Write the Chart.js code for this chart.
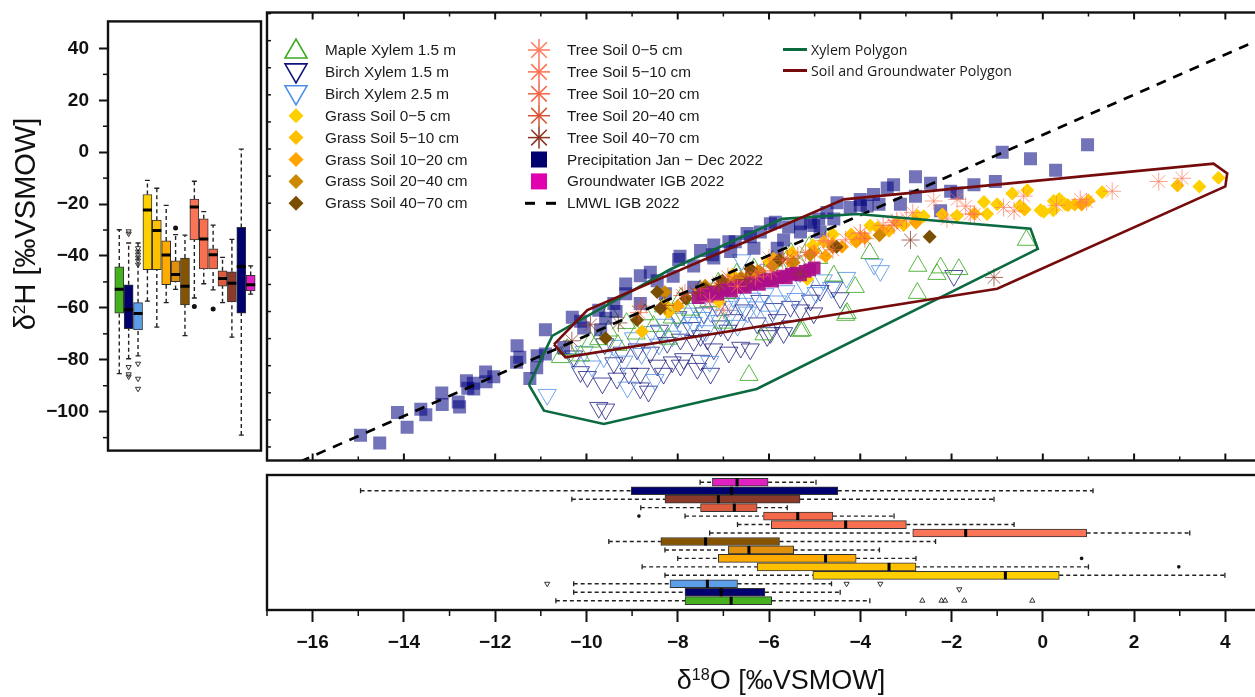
<!DOCTYPE html>
<html><head><meta charset="utf-8">
<script src="https://cdn.jsdelivr.net/npm/chart.js@4.4.1/dist/chart.umd.min.js"></script>
<style>
html,body{margin:0;padding:0;background:#fff;}
body{width:1255px;height:697px;overflow:hidden;position:relative;font-family:"Liberation Sans",Arial,sans-serif;}
canvas{position:absolute;}
#legendSvg{position:absolute;left:0;top:0;pointer-events:none;}
.lt{position:absolute;font-size:15.3px;line-height:16px;color:#1a1a1a;white-space:nowrap;}
.lt2{position:absolute;font-family:"Open Sans",sans-serif;font-size:14.2px;line-height:16px;color:#1a1a1a;white-space:nowrap;}
.ytitle{position:absolute;left:25px;top:224px;transform:translate(-50%,-50%) rotate(-90deg);font-size:29px;white-space:nowrap;color:#111;}
.xtitle{position:absolute;left:781px;top:680px;transform:translate(-50%,-50%);font-size:27px;white-space:nowrap;color:#111;}
sup{font-size:60%;vertical-align:0.55em;line-height:0}
</style></head><body>
<canvas id="cMain" width="1290" height="472" style="left:0;top:0"></canvas>
<canvas id="cLeft" width="266" height="472" style="left:0;top:0"></canvas>
<canvas id="cBot" width="1290" height="227" style="left:0;top:470px"></canvas>
<svg id="legendSvg" width="1255" height="697"></svg>
<div id="legendText"></div>
<div class="ytitle">δ<sup>2</sup>H [‰VSMOW]</div>
<div class="xtitle">δ<sup>18</sup>O [‰VSMOW]</div>
<script>
// ---------------- DATA ----------------
const groups = ['Maple Xylem 1.5 m','Birch Xylem 1.5 m','Birch Xylem 2.5 m','Grass Soil 0\u22125 cm','Grass Soil 5\u221210 cm','Grass Soil 10\u221220 cm','Grass Soil 20\u221240 cm','Grass Soil 40\u221270 cm','Tree Soil 0\u22125 cm','Tree Soil 5\u221210 cm','Tree Soil 10\u221220 cm','Tree Soil 20\u221240 cm','Tree Soil 40\u221270 cm','Precipitation Jan \u2212 Dec 2022','Groundwater IGB 2022'];
const lineLabels = ['LMWL IGB 2022','Xylem Polygon','Soil and Groundwater Polygon'];
const boxColors = ['#45B020','#00006E','#5C9EE8','#FFD000','#FFC000','#FFAA00','#E0900C','#865400','#FA7558','#F8704F','#F26848','#DC5C40','#8B3A2A','#00006E','#E020C0'];
const legendColors = ['#3DAA22','#12127A','#4D8FE6','#FFD000','#FFC000','#FFA500','#CC8800','#7A4E00','#FF7A5C','#FF6E50','#F56244','#D8502F','#8A3322','#00006E','#E000B0'];

// δ2H box statistics (left panel), group order as above
const h2Q1  = [-62,-68,-68.5,-45.3,-45.3,-51.1,-49.9,-58.9,-33.8,-45,-45,-51.6,-57.7,-62,-53.5];
const h2Q3  = [-44.2,-51.1,-58,-16.3,-26.2,-34.2,-41.9,-40.8,-18.1,-25.7,-37.2,-45.7,-46.1,-29,-47.5];
const h2Med = [-52.8,-60.7,-62.2,-22.3,-30.2,-39.6,-47.1,-51.7,-21.1,-33.5,-39.5,-48.7,-50.5,-44.1,-51.1];
const h2Lo  = [-85.3,-79.6,-78.5,-57.4,-67.4,-58,-52.9,-70.7,-56.2,-50.7,-53.1,-58,-71.3,-109,-54.7];
const h2Hi  = [-29.9,-35,-35,-10.9,-13.9,-20.5,-31.8,-32,-11.2,-22.9,-28.1,-40.5,-33.6,1.2,-43.8];
const h2OutTriDown = [[2,-30.5],[2,-31.4],[2,-82.8],[2,-85.6],[2,-86.5],[3,-37],[3,-38.3],[3,-39.5],[3,-40.6],[3,-41.8],[3,-43.3],[3,-81.5],[3,-87.3],[3,-91.2]];
const h2OutDot = [[7,-29.2],[9,-59.5],[11,-60.4]];

// δ18O box statistics (bottom panel)
const o18Q1  = [-7.84,-7.84,-8.17,-5.04,-6.26,-7.11,-6.89,-8.37,-2.85,-5.95,-6.12,-7.50,-8.28,-9.02,-7.24];
const o18Q3  = [-5.94,-6.09,-6.69,0.36,-2.78,-4.09,-5.46,-5.77,0.96,-2.99,-4.60,-6.26,-5.32,-4.49,-6.02];
const o18Med = [-6.83,-7.05,-7.35,-0.82,-3.37,-4.76,-6.44,-7.39,-1.69,-4.32,-5.37,-6.76,-7.11,-6.82,-6.70];
const o18Lo  = [-10.67,-10.28,-10.28,-8.28,-8.78,-8.0,-8.28,-9.51,-7.30,-6.69,-7.84,-8.81,-10.32,-14.95,-7.51];
const o18Hi  = [-3.79,-4.44,-4.63,3.99,1.0,-2.78,-3.58,-2.35,3.22,-0.63,-3.26,-5.60,-1.07,1.10,-4.97];
const o18OutTriUp = [[1,-2.64],[1,-2.22],[1,-2.14],[1,-1.72],[1,-0.23]];
const o18OutTriDown = [[2.35,-1.83],[3,-10.86],[3,-4.30],[3,-3.56]];
const o18OutDot = [[5,2.98],[6,0.85],[11,-8.85]];

// scatter samples [δ18O, δ2H]
const precipitation = [[-14.95,-105.7],[-14.53,-108.5],[-14.14,-97.3],[-13.93,-102.7],[-13.63,-96.1],[-13.52,-98.1],[-13.17,-90.1],[-13.16,-94.3],[-12.81,-93.4],[-12.78,-95.2],[-12.63,-85.6],[-12.60,-88.3],[-12.48,-86.5],[-12.47,-88.6],[-12.21,-82.3],[-12.20,-85.9],[-12.03,-84.1],[-11.52,-72.6],[-11.46,-76.9],[-11.53,-78.7],[-11.24,-84.7],[-11.08,-76.3],[-11.09,-80.8],[-10.90,-66.7],[-10.31,-62.1],[-10.90,-75.7],[-10.06,-66.1],[-10.50,-73.3],[-9.58,-62.5],[-9.14,-49.8],[-8.82,-46.8],[-9.14,-53.4],[-8.45,-48.6],[-7.98,-40.8],[-7.65,-43.2],[-7.24,-39.0],[-9.35,-60.0],[-9.69,-66.7],[-10.13,-63.6],[-9.73,-59.5],[-9.40,-57.0],[-8.82,-57.0],[-8.27,-53.4],[-7.65,-51.0],[-7.95,-39.6],[-7.21,-35.4],[-6.88,-34.2],[-6.48,-31.2],[-5.97,-27.6],[-6.74,-34.2],[-6.41,-32.4],[-6.19,-30.6],[-5.86,-27.0],[-5.57,-28.8],[-5.31,-27.6],[-5.02,-28.2],[-4.91,-25.8],[-4.73,-23.4],[-4.51,-19.8],[-4.22,-21.6],[-4.00,-18.6],[-3.71,-16.8],[-5.68,-33.6],[-5.82,-36.6],[-6.33,-36.6],[-6.84,-37.8],[-7.21,-40.2],[-5.31,-30.6],[-4.58,-25.8],[-4.88,-30.6],[-5.09,-27.0],[-4.00,-20.8],[-3.59,-20.4],[-3.85,-21.0],[-2.79,-10.2],[-2.46,-12.6],[-3.27,-13.2],[-3.41,-14.4],[-2.79,-17.4],[-3.12,-20.4],[-2.02,-15.6],[-1.51,-13.2],[-1.04,-12.0],[-1.88,-16.2],[-0.89,-1.2],[-0.27,-3.6],[0.28,-7.8],[0.98,1.6],[-2.24,-22.8],[-8.60,-45.5],[-8.10,-47.0],[-7.50,-37.5]];
const groundwater = [[-7.55,-54.9],[-7.45,-53.6],[-7.35,-54.3],[-7.22,-52.9],[-7.12,-53.6],[-7.01,-52.2],[-6.91,-51.6],[-6.82,-52.4],[-6.71,-51.1],[-6.61,-50.4],[-6.52,-51.0],[-6.41,-49.8],[-6.32,-49.2],[-6.21,-50.0],[-6.11,-48.6],[-6.01,-48.0],[-5.92,-48.8],[-5.81,-47.5],[-5.71,-46.9],[-5.62,-47.6],[-5.51,-46.3],[-5.41,-45.8],[-5.31,-46.5],[-5.21,-45.2],[-5.11,-44.6],[-5.01,-43.9]];
const birch15 = [[-9.98,-84.1],[-9.65,-86.5],[-9.33,-84.7],[-9.07,-82.9],[-8.82,-88.3],[-8.64,-89.5],[-9.73,-95.5],[-9.58,-96.1],[-8.45,-79.9],[-8.12,-78.7],[-7.87,-77.5],[-7.57,-81.1],[-7.28,-82.9],[-9.22,-75.1],[-8.89,-73.9],[-8.60,-75.1],[-8.23,-71.5],[-7.94,-70.3],[-7.65,-70.8],[-7.35,-70.3],[-7.50,-69.0],[-7.21,-73.9],[-6.62,-73.3],[-6.41,-73.9],[-7.06,-65.4],[-6.77,-63.1],[-6.26,-64.3],[-5.82,-63.1],[-5.53,-58.2],[-5.09,-55.9],[-4.88,-52.3],[-4.58,-51.0],[-5.31,-59.5],[-6.04,-69.0],[-5.68,-67.9],[-6.84,-57.0],[-6.55,-59.5],[-7.43,-60.6],[-7.13,-58.2],[-10.13,-82.3],[-8.82,-82.9],[-8.31,-82.9],[-7.94,-79.9],[-7.50,-78.1],[-6.88,-75.1],[-5.97,-67.9],[-5.53,-65.4],[-5.02,-60.6],[-1.95,-46.8],[-10.28,-76.5],[-9.60,-72.0],[-8.00,-62.0],[-7.70,-66.0],[-6.20,-56.0],[-5.90,-59.0],[-4.44,-55.0],[-6.90,-67.0],[-9.40,-79.0],[-8.40,-67.0]];
const birch25 = [[-10.86,-90.7],[-10.28,-77.5],[-10.05,-74.8],[-9.88,-80.2],[-9.62,-76.8],[-9.41,-72.6],[-9.18,-78.4],[-8.97,-69.8],[-8.79,-75.6],[-8.58,-67.5],[-8.41,-72.1],[-8.27,-64.8],[-8.12,-69.2],[-8.01,-62.6],[-7.88,-66.4],[-7.79,-60.7],[-7.66,-64.1],[-7.58,-58.9],[-7.47,-62.3],[-7.39,-67.2],[-7.28,-60.1],[-7.19,-56.3],[-7.08,-63.4],[-6.98,-58.2],[-6.87,-61.5],[-6.79,-54.6],[-6.69,-65.2],[-6.58,-57.1],[-6.47,-60.3],[-6.38,-55.2],[-6.27,-58.4],[-6.09,-53.5],[-5.98,-61.8],[-5.81,-56.2],[-5.63,-52.4],[-5.41,-55.3],[-5.22,-50.6],[-4.97,-53.1],[-4.81,-48.4],[-4.63,-51.2],[-3.70,-42.6],[-4.30,-47.5],[-3.56,-45.0],[-8.50,-85.2],[-9.10,-88.0],[-7.30,-78.5],[-6.00,-44.5],[-6.60,-41.0]];
const maple = [[-10.57,-76.9],[-10.42,-73.9],[-10.13,-76.3],[-9.91,-71.2],[-9.73,-70.3],[-9.52,-67.1],[-9.31,-72.4],[-9.12,-64.3],[-8.91,-68.2],[-8.72,-61.1],[-8.53,-65.4],[-8.31,-58.2],[-8.12,-62.3],[-7.93,-55.1],[-7.72,-59.4],[-7.51,-52.2],[-7.32,-56.3],[-7.11,-49.4],[-6.92,-53.2],[-6.71,-46.1],[-6.52,-50.3],[-6.33,-44.2],[-6.11,-48.1],[-5.92,-41.3],[-5.71,-45.2],[-5.52,-38.4],[-5.31,-43.1],[-5.12,-36.2],[-4.91,-40.3],[-4.72,-33.1],[-4.11,-51.0],[-4.32,-61.3],[-5.31,-67.2],[-6.44,-83.5],[-4.58,-46.8],[-6.11,-68.5],[-5.27,-67.0],[-4.29,-60.6],[-2.74,-43.2],[-2.32,-46.2],[-2.24,-43.8],[-1.84,-44.4],[-2.75,-53.2],[-0.36,-33.6],[-7.00,-64.2],[-8.20,-70.1],[-3.79,-38.5],[-9.50,-60.0]];
const grass0005 = [[3.85,-10.6],[3.43,-13.8],[1.30,-16.0],[0.24,-19.2],[0.23,-22.6],[-0.05,-22.6],[-0.34,-15.2],[-0.67,-16.4],[-1.29,-19.6],[-1.22,-24.0],[-1.88,-24.6],[-2.75,-24.6],[-1.00,-20.4],[0.02,-23.2],[0.49,-20.4],[-2.61,-24.8],[-3.19,-27.0],[-3.78,-28.2],[-4.00,-32.4],[0.36,-18.5],[-0.50,-21.0],[-5.04,-35.5],[-4.60,-31.5],[-6.00,-41.5],[-7.10,-56.4],[-8.28,-57.4],[-5.16,-48.0]];
const grass0510 = [[2.95,-13.5],[1.00,-19.0],[0.55,-20.8],[0.70,-20.5],[-0.40,-22.3],[-1.50,-23.8],[-2.20,-24.2],[-2.78,-26.6],[-3.05,-28.1],[-3.37,-30.2],[-3.62,-29.1],[-4.20,-31.6],[-4.80,-34.2],[-5.50,-38.3],[-6.26,-45.3],[-6.80,-46.4],[-7.50,-52.1],[-8.20,-60.3],[-8.78,-67.4]];
const grass1020 = [[0.85,-20.5],[-2.78,-27.2],[-3.50,-30.3],[-4.09,-34.2],[-4.40,-36.1],[-4.76,-39.6],[-5.02,-37.8],[-5.50,-42.1],[-6.20,-46.2],[-7.11,-51.1],[-7.50,-53.3],[-8.00,-58.0],[-4.60,-35.2],[-3.90,-32.8],[-5.90,-40.5],[-6.60,-47.5]];
const grass2040 = [[-8.28,-52.9],[-7.40,-50.5],[-6.89,-49.9],[-6.62,-47.6],[-6.44,-47.1],[-6.21,-45.2],[-5.92,-43.1],[-5.46,-41.9],[-4.60,-36.2],[-3.58,-31.8],[-6.72,-48.6],[-5.10,-39.0]];
const grass4070 = [[-9.58,-69.9],[-8.89,-63.1],[-8.38,-58.9],[-8.45,-52.8],[-7.82,-55.2],[-7.39,-51.7],[-7.02,-48.6],[-6.41,-44.2],[-5.77,-40.8],[-4.52,-36.1],[-2.48,-32.4]];
const tree0005 = [[3.05,-10.8],[2.54,-12.0],[1.52,-15.6],[0.82,-18.6],[0.96,-19.5],[-0.42,-17.4],[-0.86,-21.6],[-1.59,-24.0],[-1.88,-18.6],[-2.39,-19.2],[-2.10,-25.8],[-1.69,-21.1],[-2.85,-23.5],[-3.30,-27.2],[-4.00,-31.0],[-4.80,-33.8],[-6.00,-40.2],[-7.30,-56.2],[-7.00,-59.5],[0.30,-20.8]];
const tree0510 = [[-0.63,-22.9],[-1.50,-24.1],[-2.99,-25.7],[-3.50,-28.2],[-4.00,-31.1],[-4.32,-33.5],[-4.70,-34.3],[-5.20,-38.1],[-5.95,-45.0],[-6.30,-47.2],[-6.69,-50.7],[-3.20,-26.5]];
const tree1020 = [[-8.85,-60.4],[-7.84,-53.1],[-6.90,-47.2],[-6.12,-45.0],[-5.70,-41.1],[-5.37,-39.5],[-5.00,-38.5],[-4.60,-37.2],[-3.90,-33.1],[-3.26,-28.1]];
const tree2040 = [[-8.81,-58.0],[-7.90,-54.1],[-7.50,-51.6],[-7.10,-49.5],[-6.76,-48.7],[-6.50,-47.1],[-6.26,-45.7],[-5.60,-40.5]];
const tree4070 = [[-10.32,-70.8],[-9.30,-64.2],[-8.28,-57.7],[-7.60,-53.1],[-7.11,-50.5],[-6.50,-48.2],[-5.32,-46.1],[-2.90,-33.6],[-1.07,-47.4],[-9.91,-64.9]];
const xylemPolygon = [[-11.26,-87.1],[-10.75,-69.0],[-8.16,-44.4],[-5.71,-25.8],[-4.07,-24.0],[-0.27,-29.4],[-0.11,-36.9],[-6.27,-88.6],[-9.62,-101.5],[-10.93,-96.6],[-11.26,-87.1]];
const soilPolygon = [[-10.71,-72.1],[-10.46,-76.9],[-1.0,-51.6],[4.0,-13.8],[4.04,-9.0],[3.74,-5.4],[-4.36,-18.6],[-9.98,-59.5],[-10.71,-72.1]];
const lmwl = [[-17,-120.8],[5,42.3]];

// ---------------- HELPERS ----------------
const pts = a => a.map(p => ({x:p[0], y:p[1]}));
const fmt = v => v < 0 ? '\u2212' + Math.abs(v) : String(v);
const FONT = 'Liberation Sans, Arial, sans-serif';
const rangeStep = (a,b,s) => { const r=[]; for(let v=a; v<=b+1e-9; v+=s) r.push(Math.round(v*100)/100); return r; };

const framePlugin = {
  id:'framePlugin',
  afterDraw(chart, args, opts){
    const {ctx, chartArea:a} = chart;
    ctx.save();
    ctx.strokeStyle = '#111';
    (opts.marks||[]).forEach(m => {
      const sc = chart.scales[m.axis];
      ctx.lineWidth = m.w || 2;
      m.values.forEach(v => {
        const p = sc.getPixelForValue(v);
        ctx.beginPath();
        if (m.side==='bottom'){ ctx.moveTo(p,a.bottom); ctx.lineTo(p,a.bottom+m.len); }
        if (m.side==='top'){ ctx.moveTo(p,a.top); ctx.lineTo(p,a.top-m.len); }
        if (m.side==='left'){ ctx.moveTo(a.left,p); ctx.lineTo(a.left-m.len,p); }
        ctx.stroke();
      });
    });
    if (opts.frame){ ctx.lineWidth = opts.frame; ctx.strokeRect(a.left,a.top,a.right-a.left,a.bottom-a.top); }
    ctx.restore();
  }
};

const boxPlugin = {
  id:'boxPlugin',
  afterDatasetsDraw(chart, args, o){
    if(!o.q1) return;
    const {ctx, chartArea:a} = chart;
    const vs = o.horizontal ? chart.scales.x : chart.scales.y;
    const ps = o.horizontal ? chart.scales.y : chart.scales.x;
    ctx.save();
    ctx.beginPath(); ctx.rect(a.left,a.top,a.right-a.left,a.bottom-a.top); ctx.clip();
    const seg = (c,v1,v2) => { ctx.beginPath();
      if(o.horizontal){ ctx.moveTo(v1,c); ctx.lineTo(v2,c);} else { ctx.moveTo(c,v1); ctx.lineTo(c,v2);} ctx.stroke(); };
    const cross = (c,v,h) => { ctx.beginPath();
      if(o.horizontal){ ctx.moveTo(v,c-h); ctx.lineTo(v,c+h);} else { ctx.moveTo(c-h,v); ctx.lineTo(c+h,v);} ctx.stroke(); };
    o.q1.forEach((q,i) => {
      const c = ps.getPixelForValue(i+1);
      const lo = vs.getPixelForValue(Math.min(q,o.q3[i])), hi = vs.getPixelForValue(Math.max(q,o.q3[i]));
      const wl = vs.getPixelForValue(o.lo[i]), wh = vs.getPixelForValue(o.hi[i]);
      ctx.strokeStyle='#222'; ctx.lineWidth=1.4; ctx.setLineDash([4,3]);
      seg(c, wl, lo); seg(c, hi, wh);
      ctx.setLineDash([]); ctx.lineWidth=1.3;
      cross(c, wl, 2.5); cross(c, wh, 2.5);
      ctx.strokeStyle='#000'; ctx.lineWidth=3;
      cross(c, vs.getPixelForValue(o.med[i]), o.half);
    });
    ctx.restore();
  }
};

// ---------------- MAIN SCATTER ----------------
function scat(label, data, style, color, r, extra){
  return Object.assign({label, data:pts(data), pointStyle:style, pointRadius:r, pointHoverRadius:r,
    backgroundColor:color, borderColor:color, pointBorderWidth:1, showLine:false}, extra||{});
}
const solidPt = (label,data,style,color,r) => scat(label,data,style,color,r,{pointBorderWidth:0, borderWidth:0});
const mainDatasets = [
  {label:lineLabels[2], data:pts(soilPolygon), showLine:true, borderColor:'#760B0B', borderWidth:2.6, pointRadius:0, fill:false, tension:0},
  {label:lineLabels[1], data:pts(xylemPolygon), showLine:true, borderColor:'#0C6A40', borderWidth:2.6, pointRadius:0, fill:false, tension:0},
  {label:lineLabels[0], data:pts(lmwl), showLine:true, borderColor:'#000', borderWidth:2.6, borderDash:[10,8], pointRadius:0, fill:false},
  scat(groups[12], tree4070, 'star', 'rgba(139,58,42,0.75)', 9),
  scat(groups[11], tree2040, 'star', 'rgba(216,80,47,0.7)', 9),
  scat(groups[10], tree1020, 'star', 'rgba(245,98,68,0.7)', 9),
  scat(groups[9], tree0510, 'star', 'rgba(255,110,80,0.7)', 9),
  scat(groups[8], tree0005, 'star', 'rgba(255,122,92,0.7)', 9),
  solidPt(groups[14], groundwater, 'rect', 'rgba(172,14,138,0.92)', 9),
  solidPt(groups[7], grass4070, 'rectRot', '#7A4E00', 7),
  solidPt(groups[6], grass2040, 'rectRot', '#CC8800', 7),
  solidPt(groups[5], grass1020, 'rectRot', '#FFA500', 7),
  solidPt(groups[4], grass0510, 'rectRot', '#FFC000', 7),
  solidPt(groups[3], grass0005, 'rectRot', '#FFD000', 7),
  solidPt(groups[13], precipitation, 'rect', 'rgba(0,0,128,0.55)', 9.2),
  scat(groups[0], maple, 'triangle', 'rgba(60,170,34,0.85)', 10.5, {backgroundColor:'rgba(0,0,0,0)'}),
  scat(groups[2], birch25, 'triangle', 'rgba(77,143,230,0.8)', 10.5, {backgroundColor:'rgba(0,0,0,0)', rotation:180}),
  scat(groups[1], birch15, 'triangle', 'rgba(18,18,122,0.75)', 10.5, {backgroundColor:'rgba(0,0,0,0)', rotation:180})
];

new Chart(document.getElementById('cMain'), {
  type:'scatter',
  data:{datasets:mainDatasets},
  options:{
    responsive:false, animation:false, events:[],
    layout:{padding:{left:267, right:19, top:12.5, bottom:3}},
    scales:{
      x:{type:'linear', min:-17, max:5, display:false},
      y:{type:'linear', min:-115, max:50.4, display:false}
    },
    plugins:{legend:{display:false}, tooltip:{enabled:false},
      framePlugin:{frame:2.4, marks:[
        {axis:'x', side:'bottom', values:rangeStep(-16,4,2), len:-7, w:2},
        {axis:'x', side:'bottom', values:rangeStep(-15,5,2), len:-4, w:1.5},
        {axis:'x', side:'top', values:rangeStep(-16,4,2), len:-7, w:2},
        {axis:'x', side:'top', values:rangeStep(-15,5,2), len:-4, w:1.5},
        {axis:'y', side:'left', values:rangeStep(-110,50,10), len:-4, w:1.5}
      ]}}
  },
  plugins:[framePlugin]
});

// ---------------- LEFT BOXPLOT (δ2H) ----------------
const posH = groups.map((g,i)=>i+1);
new Chart(document.getElementById('cLeft'), {
  type:'bar',
  data:{datasets:[
    {type:'scatter', data:h2OutTriDown.map(p=>({x:p[0],y:p[1]})), pointStyle:'triangle', rotation:180, pointRadius:3, borderColor:'#333', backgroundColor:'rgba(0,0,0,0)', pointBorderWidth:1},
    {type:'scatter', data:h2OutDot.map(p=>({x:p[0],y:p[1]})), pointStyle:'circle', pointRadius:2.5, borderColor:'#111', backgroundColor:'#111', pointBorderWidth:0},
    {type:'bar', data:posH.map((p,i)=>({x:p, y:[h2Q1[i], h2Q3[i]]})), backgroundColor:boxColors, borderColor:'#333', borderWidth:1, borderSkipped:false, barThickness:9, grouped:false}
  ]},
  options:{
    responsive:false, animation:false, events:[],
    layout:{padding:{left:0, right:3, top:12.5, bottom:2}},
    scales:{
      x:{type:'linear', min:-0.2, max:16.1, display:false, offset:false},
      y:{type:'linear', min:-115, max:50.4, position:'left',
         afterFit:s=>{ s.width = 108; },
         afterBuildTicks:s=>{ s.ticks = s.ticks.filter(t=>t.value % 20 === 0); },
         ticks:{stepSize:20, callback:v=>fmt(v), color:'#111', padding:10, font:{family:FONT, size:19, weight:'bold'}},
         grid:{drawOnChartArea:false, drawTicks:true, tickLength:9, tickWidth:2, tickColor:'#111'},
         border:{display:false}}
    },
    plugins:{legend:{display:false}, tooltip:{enabled:false},
      boxPlugin:{q1:h2Q1, q3:h2Q3, med:h2Med, lo:h2Lo, hi:h2Hi, half:4.5, horizontal:false},
      framePlugin:{frame:2.4, marks:[{axis:'y', side:'left', values:rangeStep(-110,30,20), len:5, w:1.5}]}}
  },
  plugins:[boxPlugin, framePlugin]
});

// ---------------- BOTTOM BOXPLOT (δ18O) ----------------
new Chart(document.getElementById('cBot'), {
  type:'bar',
  data:{datasets:[
    {type:'scatter', data:o18OutTriUp.map(p=>({y:p[0],x:p[1]})), pointStyle:'triangle', pointRadius:3, borderColor:'#333', backgroundColor:'rgba(0,0,0,0)', pointBorderWidth:1},
    {type:'scatter', data:o18OutTriDown.map(p=>({y:p[0],x:p[1]})), pointStyle:'triangle', rotation:180, pointRadius:3, borderColor:'#333', backgroundColor:'rgba(0,0,0,0)', pointBorderWidth:1},
    {type:'scatter', data:o18OutDot.map(p=>({y:p[0],x:p[1]})), pointStyle:'circle', pointRadius:1.8, borderColor:'#111', backgroundColor:'#111', pointBorderWidth:0},
    {type:'bar', data:posH.map((p,i)=>({y:p, x:[o18Q1[i], o18Q3[i]]})), backgroundColor:boxColors, borderColor:'#333', borderWidth:1, borderSkipped:false, barThickness:8, grouped:false}
  ]},
  options:{
    indexAxis:'y', responsive:false, animation:false, events:[],
    layout:{padding:{left:267, right:19, top:5, bottom:0}},
    scales:{
      y:{type:'linear', min:-0.1, max:15.86, display:false, offset:false},
      x:{type:'linear', min:-17, max:5, position:'bottom', offset:false,
         afterFit:s=>{ s.height = 87; },
         afterBuildTicks:s=>{ s.ticks = s.ticks.filter(t=>t.value % 2 === 0); },
         ticks:{stepSize:1, callback:v=>fmt(v), color:'#111', padding:9, maxRotation:0, autoSkip:false, font:{family:FONT, size:19, weight:'bold'}},
         grid:{drawOnChartArea:false, drawTicks:true, tickLength:12, tickWidth:2, tickColor:'#111'},
         border:{display:false}}
    },
    plugins:{legend:{display:false}, tooltip:{enabled:false},
      boxPlugin:{q1:o18Q1, q3:o18Q3, med:o18Med, lo:o18Lo, hi:o18Hi, half:4, horizontal:true},
      framePlugin:{frame:2.4, marks:[{axis:'x', side:'bottom', values:rangeStep(-17,5,2), len:6, w:1.5}]}}
  },
  plugins:[boxPlugin, framePlugin]
});

// ---------------- LEGEND (HTML/SVG) ----------------
const svg = document.getElementById('legendSvg');
const lt = document.getElementById('legendText');
const NS = 'http://www.w3.org/2000/svg';
function el(tag, attrs){ const e=document.createElementNS(NS,tag); for(const k in attrs) e.setAttribute(k,attrs[k]); svg.appendChild(e); return e; }
function text(cls, x, y, s){ const d=document.createElement('div'); d.className=cls; d.style.left=x+'px'; d.style.top=(y-8)+'px'; d.textContent=s; lt.appendChild(d); }
const markerKinds = ['tri','tridown','tridown','dia','dia','dia','dia','dia','star','star','star','star','star','sq','sq'];
function marker(kind, cx, cy, col){
  if(kind==='tri') el('polygon',{points:`${cx-11},${cy+8} ${cx+11},${cy+8} ${cx},${cy-11}`, fill:'none', stroke:col, 'stroke-width':1.6});
  if(kind==='tridown') el('polygon',{points:`${cx-11},${cy-8} ${cx+11},${cy-8} ${cx},${cy+11}`, fill:'none', stroke:col, 'stroke-width':1.6});
  if(kind==='dia') el('polygon',{points:`${cx},${cy-7.5} ${cx+7.5},${cy} ${cx},${cy+7.5} ${cx-7.5},${cy}`, fill:col});
  if(kind==='sq') el('rect',{x:cx-8, y:cy-8, width:16, height:16, fill:col});
  if(kind==='star'){ const r=11, d=7.8;
    [[0,-r,0,r],[-r,0,r,0],[-d,-d,d,d],[-d,d,d,-d]].forEach(s=>el('line',{x1:cx+s[0],y1:cy+s[1],x2:cx+s[2],y2:cy+s[3],stroke:col,'stroke-width':1.5})); }
}
const rowY = i => 50 + 21.9*i;
groups.forEach((g,i) => {
  const col = i < 8 ? 0 : 1, row = i < 8 ? i : i-8;
  const mx = col===0 ? 296 : 539, tx = col===0 ? 325 : 567;
  marker(markerKinds[i], mx, rowY(row), legendColors[i]);
  text('lt', tx, rowY(row), g);
});
el('line',{x1:525,y1:rowY(7),x2:535,y2:rowY(7),stroke:'#000','stroke-width':3});
el('line',{x1:546,y1:rowY(7),x2:556,y2:rowY(7),stroke:'#000','stroke-width':3});
text('lt', 567, rowY(7), lineLabels[0]);
el('line',{x1:783,y1:49.5,x2:807,y2:49.5,stroke:'#0C6A40','stroke-width':3});
el('line',{x1:783,y1:70.5,x2:807,y2:70.5,stroke:'#760B0B','stroke-width':3});
text('lt2', 811, 49.5, lineLabels[1]);
text('lt2', 811, 70.5, lineLabels[2]);
</script>
</body></html>
